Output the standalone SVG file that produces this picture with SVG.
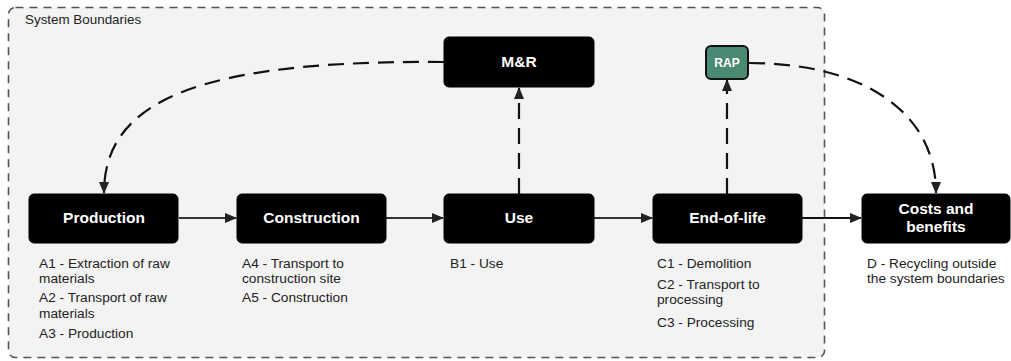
<svg xmlns="http://www.w3.org/2000/svg" width="1011" height="361" viewBox="0 0 1011 361">
<defs>
<style>
.box{fill:#000;stroke:#000;stroke-width:1}
.lbl{font-family:"Liberation Sans",Arial,sans-serif;font-weight:bold;font-size:15.5px;fill:#fff;text-anchor:middle}
.desc{font-family:"Liberation Sans",Arial,sans-serif;font-size:13.7px;fill:#222}
.solid{fill:none;stroke:#333;stroke-width:2}
.dash{fill:none;stroke:#111;stroke-width:2.2;stroke-dasharray:16 9}
</style>
<marker id="ah" viewBox="0 0 12 10" refX="11" refY="5" markerWidth="12" markerHeight="10" markerUnits="userSpaceOnUse" orient="auto">
<path d="M0,0 L12,5 L0,10 Z" fill="#222"/>
</marker>
</defs>
<rect width="1011" height="361" fill="#fff"/>
<g id="boundary">
<rect x="8.5" y="7.5" width="816" height="350" rx="7" fill="#f3f3f4" stroke="#555" stroke-width="1.6" stroke-dasharray="8 6"/>
<text x="25" y="24" font-family="Liberation Sans,Arial,sans-serif" font-size="13.4" fill="#222">System Boundaries</text>
</g>
<g id="connectors">
<path class="solid" d="M179,218 L236,218" marker-end="url(#ah)"/>
<path class="solid" d="M386,218 L443,218" marker-end="url(#ah)"/>
<path class="solid" d="M594,218 L652,218" marker-end="url(#ah)"/>
<path class="solid" d="M802,218 L861,218" marker-end="url(#ah)" style="stroke:#111"/>
<path class="dash" d="M519,194 L519,88" marker-end="url(#ah)"/>
<path class="dash" d="M727,194 L727,80" marker-end="url(#ah)"/>
<path class="dash" d="M444,62 C200,60 104,100 104,193" marker-end="url(#ah)"/>
<path class="dash" d="M749,63 C860,63 936,110 936,193" marker-end="url(#ah)"/>
</g>
<g id="production">
<rect class="box" x="29" y="194" width="149" height="49" rx="5"/>
<text class="lbl" x="104" y="223">Production</text>
<text class="desc" x="39" y="268">A1 - Extraction of raw</text>
<text class="desc" x="39" y="283">materials</text>
<text class="desc" x="39" y="302">A2 - Transport of raw</text>
<text class="desc" x="39" y="318">materials</text>
<text class="desc" x="39" y="338">A3 - Production</text>
</g>
<g id="construction">
<rect class="box" x="237" y="194" width="149" height="49" rx="5"/>
<text class="lbl" x="311.5" y="223">Construction</text>
<text class="desc" x="242" y="268">A4 - Transport to</text>
<text class="desc" x="242" y="283">construction site</text>
<text class="desc" x="242" y="302">A5 - Construction</text>
</g>
<g id="use">
<rect class="box" x="444" y="194" width="150" height="49" rx="5"/>
<text class="lbl" x="519" y="223">Use</text>
<text class="desc" x="450" y="268">B1 - Use</text>
</g>
<g id="end-of-life">
<rect class="box" x="653" y="194" width="149" height="49" rx="5"/>
<text class="lbl" x="727.5" y="223">End-of-life</text>
<text class="desc" x="657" y="268">C1 - Demolition</text>
<text class="desc" x="657" y="289">C2 - Transport to</text>
<text class="desc" x="657" y="304">processing</text>
<text class="desc" x="657" y="327">C3 - Processing</text>
</g>
<g id="costs">
<rect class="box" x="862" y="194" width="148" height="49" rx="5"/>
<text class="lbl" x="936" y="214">Costs and</text>
<text class="lbl" x="936" y="232">benefits</text>
<text class="desc" x="867" y="268">D - Recycling outside</text>
<text class="desc" x="867" y="283">the system boundaries</text>
</g>
<g id="mr">
<rect class="box" x="444" y="37" width="150" height="50" rx="5"/>
<text class="lbl" x="519" y="67">M&amp;R</text>
</g>
<g id="rap">
<rect x="706" y="46" width="42" height="33" rx="5" fill="#4b8a72" stroke="#111" stroke-width="2"/>
<text x="727" y="67" font-family="Liberation Sans,Arial,sans-serif" font-weight="bold" font-size="12" fill="#fff" text-anchor="middle">RAP</text>
</g>
</svg>
